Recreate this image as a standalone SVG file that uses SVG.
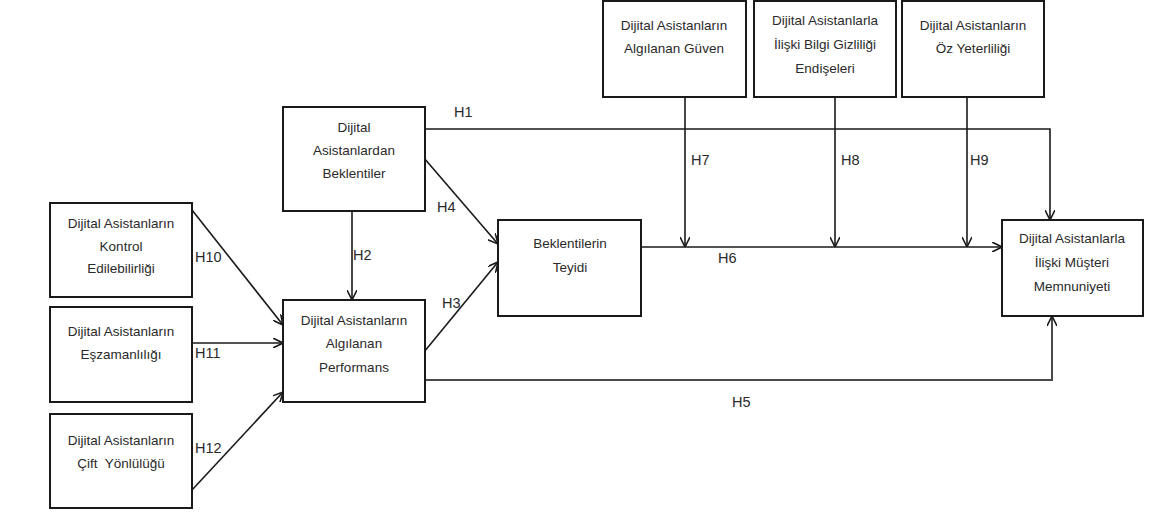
<svg xmlns="http://www.w3.org/2000/svg" width="1150" height="519" viewBox="0 0 1150 519">
<defs>
<marker id="arr" viewBox="0 0 10 10" refX="10" refY="5" markerWidth="10" markerHeight="10" markerUnits="userSpaceOnUse" orient="auto">
<path d="M0,0 L10,5 L0,10" fill="none" stroke="#1a1a1a" stroke-width="1.6"/>
</marker>
</defs>
<style>
.box{fill:#fff;stroke:#1a1a1a;stroke-width:2}
.t{font-family:"Liberation Sans",Arial,sans-serif;font-size:13.5px;fill:#2a2a2a;text-anchor:middle}
.lb{font-family:"Liberation Sans",Arial,sans-serif;font-size:14.5px;fill:#2a2a2a}
.c{fill:none;stroke:#1a1a1a;stroke-width:1.6;marker-end:url(#arr)}
</style>
<rect width="1150" height="519" fill="#fff"/>
<g id="connectors">
<path class="c" d="M425,129 H1050 V220"/>
<path class="c" d="M424,158 L498,244"/>
<path class="c" d="M352,211 V300"/>
<path class="c" d="M424,352 L498,262"/>
<path class="c" d="M425,380 H1052 V316" style="stroke:#4a4a4a;stroke-width:2"/>
<path class="c" d="M641,247 H1002"/>
<path class="c" d="M685,97 V247"/>
<path class="c" d="M835,97 V247"/>
<path class="c" d="M967,97 V247"/>
<path class="c" d="M192,210 L283,325"/>
<path class="c" d="M192,343 H283"/>
<path class="c" d="M192,490 L283,392"/>
<text class="lb" x="454" y="117">H1</text>
<text class="lb" x="353" y="260">H2</text>
<text class="lb" x="442" y="308">H3</text>
<text class="lb" x="437" y="212">H4</text>
<text class="lb" x="732" y="407">H5</text>
<text class="lb" x="718" y="263">H6</text>
<text class="lb" x="691" y="165">H7</text>
<text class="lb" x="841" y="165">H8</text>
<text class="lb" x="970" y="165">H9</text>
<text class="lb" x="195" y="262">H10</text>
<text class="lb" x="195" y="358">H11</text>
<text class="lb" x="195" y="453">H12</text>
</g>
<g id="kontrol">
<rect class="box" x="50" y="203" width="142" height="94"/>
<text class="t" x="121" y="228">Dijital Asistanların</text>
<text class="t" x="121" y="251">Kontrol</text>
<text class="t" x="121" y="273">Edilebilirliği</text>
</g>
<g id="eszamanlilik">
<rect class="box" x="50" y="307" width="142" height="95"/>
<text class="t" x="121" y="336">Dijital Asistanların</text>
<text class="t" x="121" y="359">Eşzamanlılığı</text>
</g>
<g id="cift">
<rect class="box" x="50" y="414" width="142" height="94"/>
<text class="t" x="121" y="445">Dijital Asistanların</text>
<text class="t" x="121" y="468">Çift&#160; Yönlülüğü</text>
</g>
<g id="beklentiler">
<rect class="box" x="283" y="107" width="142" height="104"/>
<text class="t" x="354" y="132">Dijital</text>
<text class="t" x="354" y="155">Asistanlardan</text>
<text class="t" x="354" y="178">Beklentiler</text>
</g>
<g id="performans">
<rect class="box" x="283" y="300" width="142" height="102"/>
<text class="t" x="354" y="325">Dijital Asistanların</text>
<text class="t" x="354" y="348">Algılanan</text>
<text class="t" x="354" y="372">Performans</text>
</g>
<g id="teyit">
<rect class="box" x="498" y="220" width="143" height="96"/>
<text class="t" x="570" y="248">Beklentilerin</text>
<text class="t" x="570" y="272">Teyidi</text>
</g>
<g id="guven">
<rect class="box" x="603" y="1" width="143" height="96"/>
<text class="t" x="674" y="30">Dijital Asistanların</text>
<text class="t" x="674" y="53">Algılanan Güven</text>
</g>
<g id="gizlilik">
<rect class="box" x="754" y="1" width="142" height="96"/>
<text class="t" x="825" y="25">Dijital Asistanlarla</text>
<text class="t" x="825" y="49">İlişki Bilgi Gizliliği</text>
<text class="t" x="825" y="73">Endişeleri</text>
</g>
<g id="ozyeterlilik">
<rect class="box" x="902" y="1" width="142" height="96"/>
<text class="t" x="973" y="30">Dijital Asistanların</text>
<text class="t" x="973" y="53">Öz Yeterliliği</text>
</g>
<g id="memnuniyet">
<rect class="box" x="1002" y="220" width="141" height="96"/>
<text class="t" x="1072" y="243">Dijital Asistanlarla</text>
<text class="t" x="1072" y="267">İlişki Müşteri</text>
<text class="t" x="1072" y="291">Memnuniyeti</text>
</g>
</svg>
